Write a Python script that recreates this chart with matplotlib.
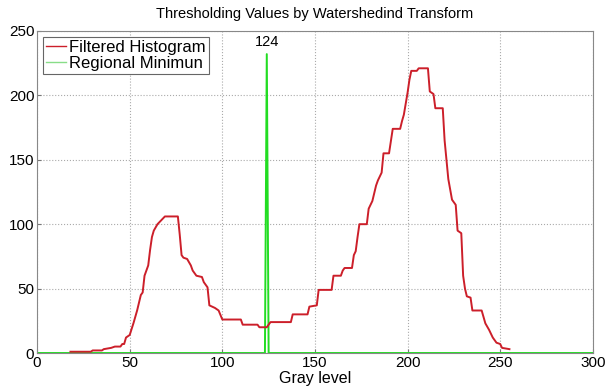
import matplotlib
matplotlib.use("Agg")
import matplotlib.pyplot as plt
import numpy as np

# filtered histogram vertices (gray level, count)
hist_x = [18, 29, 30, 35, 36, 40, 42, 45, 46, 47, 48, 50, 52, 54, 56, 57, 58, 60,
          61, 62, 63, 65, 67, 69, 76, 77, 78, 79, 81, 83, 84, 86, 89, 90, 92, 93,
          96, 98, 100, 110, 111, 119, 120, 124, 126, 137, 138, 146, 147, 151, 152,
          159, 160, 164, 165, 166, 170, 171, 172, 173, 174, 178, 179, 181, 183, 184,
          186, 187, 190, 192, 196, 197, 198, 200, 201, 202, 205, 206, 211, 212, 214,
          215, 219, 220, 221, 222, 224, 226, 227, 229, 230, 231, 232, 234, 235, 240,
          242, 244, 246, 248, 250, 251, 255]
hist_y = [1, 1, 2, 2, 3, 4, 5, 5, 7, 7, 12, 14, 23, 33, 45, 47, 60, 68,
          80, 90, 95, 100, 103, 106, 106, 92, 76, 74, 73, 68, 64, 60, 59, 55, 51, 37,
          35, 33, 26, 26, 22, 22, 20, 20, 24, 24, 30, 30, 36, 37, 49,
          49, 60, 60, 64, 66, 66, 76, 79, 90, 100, 100, 112, 118, 130, 134,
          140, 155, 155, 174, 174, 180, 185, 202, 212, 219, 219, 221, 221, 203, 201,
          190, 190, 165, 150, 135, 119, 115, 95, 93, 60, 50, 44, 43, 33, 33,
          23, 18, 12, 8, 7, 4, 3]

# regional minimum marker
min_x = [0, 123, 124, 125, 300]
min_y = [0, 0, 232, 0, 0]
min_level = 124

plt.rcParams['font.family'] = ['Liberation Sans', 'DejaVu Sans']

fig = plt.figure(figsize=(6.08, 3.89), dpi=100)
ax = fig.add_axes([0.061, 0.0925, 0.914, 0.828])

ax.plot(min_x, min_y, color='#22dd22', lw=1.4, label='Regional Minimun')
ax.plot(hist_x, hist_y, color='#cc1f2a', lw=1.4, label='Filtered Histogram')
ax.text(min_level, 236, str(min_level), ha='center', va='bottom', fontsize=10.5)

ax.set_xlim(0, 300)
ax.set_ylim(0, 250)
ax.set_xticks(np.arange(0, 301, 50))
ax.set_yticks(np.arange(0, 251, 50))
ax.tick_params(direction='in', length=3, labelsize=11, color='#777777', pad=2)
ax.grid(True, linestyle=':', color='#aaaaaa', lw=0.8)
for s in ax.spines.values():
    s.set_color('#888888')

ax.set_xlabel('Gray level', fontsize=11.5, labelpad=1)
ax.set_title('Thresholding Values by Watershedind Transform', fontsize=10.5, pad=9)

h, l = ax.get_legend_handles_labels()
leg = ax.legend(h[::-1], l[::-1], loc='upper left', fontsize=12, fancybox=False,
                handlelength=1.2, handletextpad=0.15, borderpad=0.2, labelspacing=0.05,
                borderaxespad=0.35, framealpha=1)
leg.get_frame().set_edgecolor('#666666')
leg.get_frame().set_linewidth(0.8)
leg.get_lines()[1].set_color('#88dd88')
leg.get_lines()[1].set_linewidth(1.0)
leg.get_lines()[0].set_linewidth(1.0)

fig.savefig('out.png', dpi=100)
